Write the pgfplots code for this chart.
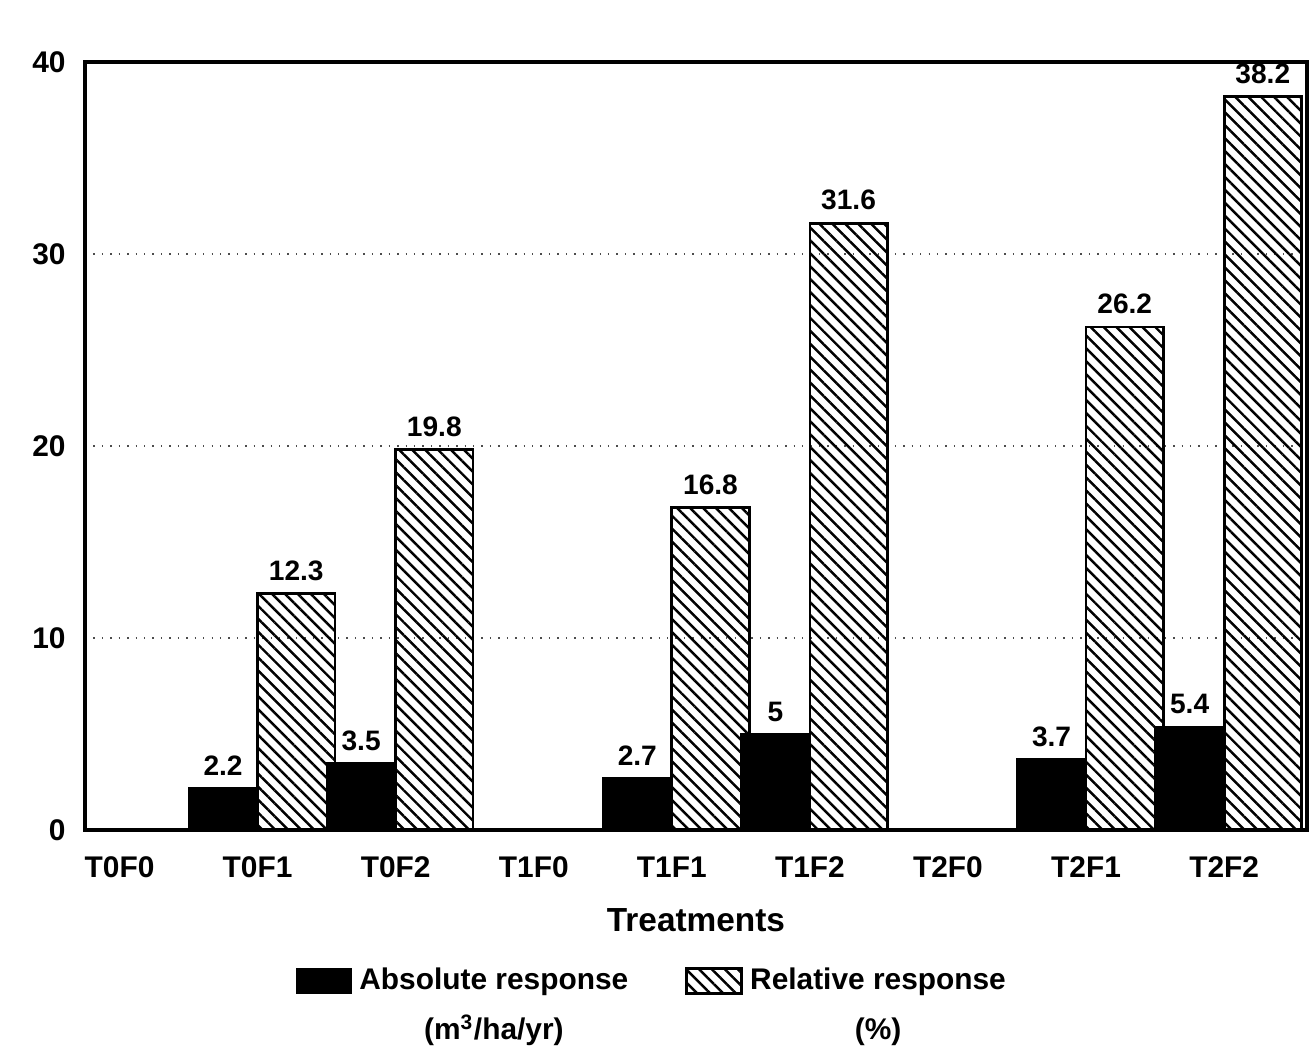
\documentclass[border=0pt]{standalone}
\usepackage{pgfplots}
\pgfplotsset{compat=1.18}
\usepackage{fontspec}
\setmainfont{Liberation Sans}
\usetikzlibrary{patterns.meta}
\begin{document}
\begin{tikzpicture}
\begin{axis}[
  scale only axis,
  width=12.22cm, height=7.68cm,
  xmin=-0.25, xmax=8.6,
  ymin=0, ymax=40,
  ytick={0,10,20,30,40},
  xtick={0,...,8},
  xticklabels={T0F0,T0F1,T0F2,T1F0,T1F1,T1F2,T2F0,T2F1,T2F2},
  major tick length=0pt,
  axis line style={line width=1pt},
  ymajorgrids,
  grid style={dotted, line width=0.6pt, black!70},
  font=\fontsize{8.5}{10}\selectfont\bfseries,
  /pgf/number format/assume math mode=true,
  yticklabel style={xshift=-2pt},
  xticklabel style={yshift=-4pt},
  xlabel={Treatments},
  xlabel style={font=\fontsize{9.5}{11}\selectfont\bfseries, yshift=-2pt},
  ybar,
  bar width=0.5,
  nodes near coords,
  every node near coord/.append style={font=\fontsize{8}{10}\selectfont\bfseries, yshift=0pt},
  /pgf/number format/fixed,
  /pgf/number format/precision=1,
  legend columns=2,
  legend style={at={(0.466,-0.16)}, anchor=north, draw=none,
    nodes={align=center, anchor=north west, font=\fontsize{8.5}{14}\selectfont\bfseries},
    /tikz/every even column/.append style={column sep=0.5cm}},
  legend image code/.code={\draw[#1] (0cm,-0.33cm) rectangle (0.55cm,-0.08cm);},
]
\addplot[draw=black, fill=black, bar shift=-0.25] coordinates {
  (1,2.2) (2,3.5) (4,2.7) (5,5) (7,3.7) (8,5.4)};
\addlegendentry{Absolute response\\(m\textsuperscript{3}/ha/yr)}
\addplot[draw=black, line width=0.8pt, bar width=0.56, bar shift=0.28,
  pattern={Lines[angle=-45, distance=2.6pt, line width=0.7pt]}] coordinates {
  (1,12.3) (2,19.8) (4,16.8) (5,31.6) (7,26.2) (8,38.2)};
\addlegendentry{Relative response\\(\%)}
\end{axis}
\path (current axis.south west) ++(-0.85cm,-2.26cm) rectangle ++(13.1cm,10.56cm);
\end{tikzpicture}
\end{document}
